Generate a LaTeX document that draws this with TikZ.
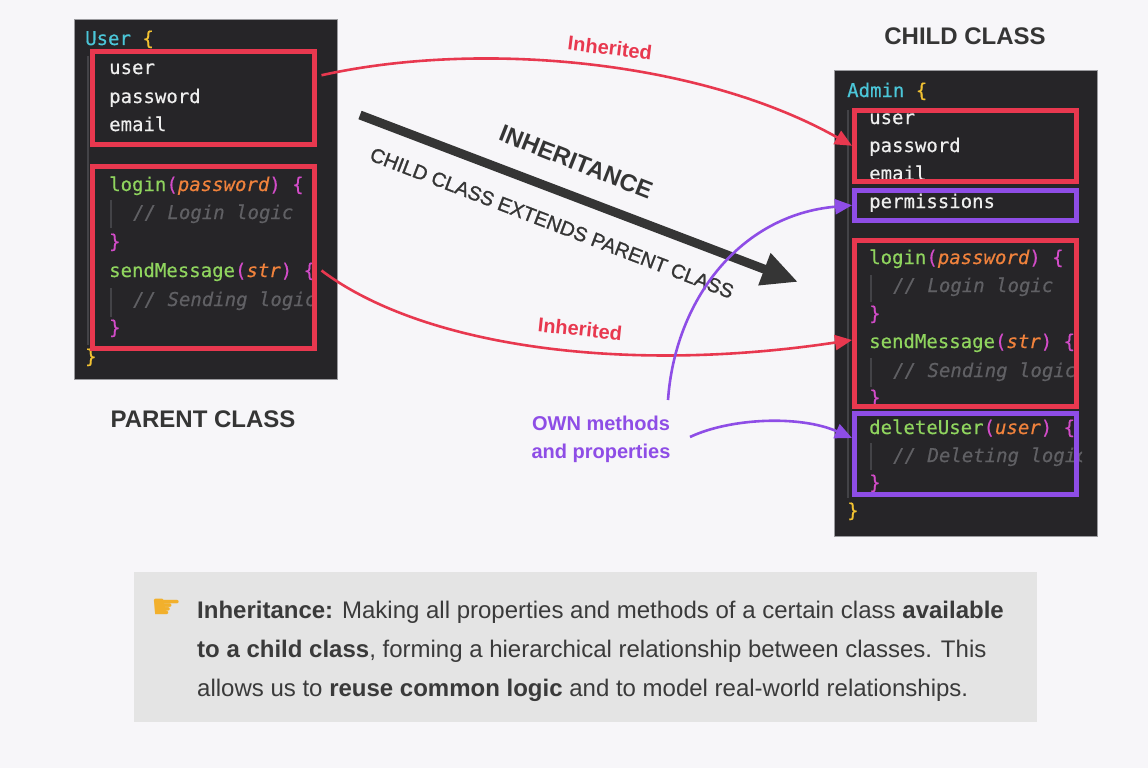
\documentclass[tikz,border=0pt]{standalone}
\usepackage{fontspec}
\setmainfont{Liberation Sans}
\newfontfamily\codefont[FakeBold=0.4]{DejaVu Sans Mono}
\newfontfamily\symfont{DejaVu Sans}
\usetikzlibrary{arrows.meta,calc}
\definecolor{bgc}{HTML}{F7F6F9}
\definecolor{panelc}{HTML}{262528}
\definecolor{panelb}{HTML}{9A9A9E}
\definecolor{guidec}{HTML}{434347}
\definecolor{cwhite}{HTML}{EEEEEE}
\definecolor{ccyan}{HTML}{4BC6D8}
\definecolor{cyel}{HTML}{F2C232}
\definecolor{cgrn}{HTML}{8FD45E}
\definecolor{cmag}{HTML}{D24CC8}
\definecolor{corg}{HTML}{F0823C}
\definecolor{ccom}{HTML}{606064}
\definecolor{redc}{HTML}{E8384F}
\definecolor{purc}{HTML}{8E4DE6}
\definecolor{darkc}{HTML}{353535}
\definecolor{txtc}{HTML}{3A3A3A}
\definecolor{notec}{HTML}{E4E4E4}
\definecolor{handc}{HTML}{F2B02C}
\newcommand{\kcyan}[1]{\textcolor{ccyan}{#1}}
\newcommand{\kyel}[1]{\textcolor{cyel}{#1}}
\newcommand{\kgrn}[1]{\textcolor{cgrn}{#1}}
\newcommand{\kmag}[1]{\textcolor{cmag}{#1}}
\newcommand{\korg}[1]{\textcolor{corg}{\itshape #1}}
\newcommand{\kcom}[1]{\textcolor{ccom}{\itshape #1}}
\tikzset{
  code/.style={anchor=base west, inner sep=0pt, text=cwhite, font=\codefont\fontsize{19}{19}\selectfont},
  panel/.style={fill=panelc, draw=panelb, line width=0.8pt},
  guide/.style={draw=guidec, line width=1.2pt},
  redbox/.style={draw=redc, line width=5pt, inner sep=0pt},
  purbox/.style={draw=purc, line width=5pt, inner sep=0pt},
  title/.style={font=\bfseries\fontsize{24}{24}\selectfont, text=darkc, anchor=base},
  redarrow/.style={draw=redc, line width=2.6pt, -{Triangle[length=17pt,width=15pt]}},
  purarrow/.style={draw=purc, line width=2.6pt, -{Triangle[length=17pt,width=15pt]}},
  redlabel/.style={font=\bfseries\fontsize{20}{20}\selectfont, text=redc, inner sep=0pt},
  note/.style={anchor=base west, inner sep=0pt, text=txtc, font=\fontsize{24}{24}\selectfont},
}
\begin{document}
\begin{tikzpicture}[x=1pt,y=-1pt]
\useasboundingbox (0,0) rectangle (1148,768);
\fill[bgc] (0,0) rectangle (1148,768);

% ---------- left panel ----------
\draw[panel] (74,19) rectangle (337,379);
\draw[guide] (88,56) -- (88,345);
\draw[guide] (111,200) -- (111,228);
\draw[guide] (111,288) -- (111,317);
\begin{scope}
\clip (74,19) rectangle (318,379);
\node[code] (l0) at (85,45) {\kcyan{User} \kyel{\{}};
\node[code] (l1) at (109,74) {user};
\node[code] (l2) at (109,103) {password};
\node[code] (l3) at (109,131) {email};
\node[code] (l4) at (109,191) {\kgrn{login}\kmag{(}\korg{password}\kmag{)} \kmag{\{}};
\node[code] (l5) at (133,219) {\kcom{// Login logic}};
\node[code] (l6) at (109,248) {\kmag{\}}};
\node[code] (l7) at (109,277) {\kgrn{sendMessage}\kmag{(}\korg{str}\kmag{)} \kmag{\{}};
\node[code] (l8) at (133,306) {\kcom{// Sending logic}};
\node[code] (l9) at (109,334) {\kmag{\}}};
\node[code] (l10) at (85,363) {\kyel{\}}};
\end{scope}
\node[redbox, minimum width=222pt, minimum height=92.5pt] (lprops) at (203,98.25) {};
\node[redbox, minimum width=222pt, minimum height=182pt] (lmeth) at (203,257.5) {};

% ---------- right panel ----------
\draw[panel] (834,70) rectangle (1097,536);
\draw[guide] (848,110) -- (848,498);
\draw[guide] (871,275) -- (871,302);
\draw[guide] (871,358) -- (871,387);
\draw[guide] (871,443) -- (871,470);
\begin{scope}
\clip (834,70) rectangle (1082,536);
\node[code] (r0) at (847,97) {\kcyan{Admin} \kyel{\{}};
\node[code] (r1) at (869,124) {user};
\node[code] (r2) at (869,152) {password};
\node[code] (r3) at (869,180) {email};
\node[code] (r4) at (869,208) {permissions};
\node[code] (r5) at (869,264) {\kgrn{login}\kmag{(}\korg{password}\kmag{)} \kmag{\{}};
\node[code] (r6) at (893,292) {\kcom{// Login logic}};
\node[code] (r7) at (869,320) {\kmag{\}}};
\node[code] (r8) at (869,348) {\kgrn{sendMessage}\kmag{(}\korg{str}\kmag{)} \kmag{\{}};
\node[code] (r9) at (893,377) {\kcom{// Sending logic}};
\node[code] (r10) at (869,404) {\kmag{\}}};
\node[code] (r11) at (869,434) {\kgrn{deleteUser}\kmag{(}\korg{user}\kmag{)} \kmag{\{}};
\node[code] (r12) at (893,462) {\kcom{// Deleting logic}};
\node[code] (r13) at (869,489) {\kmag{\}}};
\node[code] (r14) at (847,517) {\kyel{\}}};
\end{scope}
\node[redbox, minimum width=222pt, minimum height=71.5pt] (rprops) at (965.5,145.75) {};
\node[purbox, minimum width=222pt, minimum height=29.5pt] (rperm) at (965.5,205.25) {};
\node[redbox, minimum width=222pt, minimum height=166pt] (rmeth) at (965.5,323) {};
\node[purbox, minimum width=222pt, minimum height=81pt] (rdel) at (965.5,454) {};

% ---------- titles ----------
\node[title] (childt) at (965,45) {CHILD CLASS};
\node[title] (parentt) at (203,427) {PARENT CLASS};

% ---------- inheritance arrow ----------
\coordinate (ia) at (360,115);
\coordinate (ib) at (798,282);
\draw[darkc, line width=9pt, -{Triangle[length=36pt,width=32pt]}] (ia) -- (ib);
\node[font=\bfseries\fontsize{24}{24}\selectfont, text=darkc, rotate=-21.5, inner sep=0pt] (inh) at (576,162) {INHERITANCE};
\node[font=\fontsize{20}{20}\selectfont, text=darkc, rotate=-21, inner sep=0pt] (ext) at (552,223) {\addfontfeature{FakeBold=1.2}CHILD CLASS EXTENDS PARENT CLASS};

% ---------- red connectors ----------
\draw[redarrow] ($(lprops.east)+(5,-23)$) .. controls (480,40) and (700,60) .. (rprops.west);
\node[redlabel, rotate=-7] (inh1) at (610,48) {Inherited};
\draw[redarrow] ($(lmeth.east)+(5,13)$) .. controls (420,345) and (620,375) .. ($(rmeth.west)+(0,17)$);
\node[redlabel, rotate=-6] (inh2) at (580,329) {Inherited};

% ---------- own methods ----------
\node[font=\bfseries\fontsize{20}{28}\selectfont, text=purc, align=center, inner sep=0pt, anchor=north] (own) at (601,416) {OWN methods\\and properties};
\coordinate (p1s) at (668,400);
\coordinate (p2s) at (690,437);
\draw[purarrow] (p1s) .. controls (675,300) and (740,215) .. (rperm.west);
\draw[purarrow] (p2s) .. controls (730,418) and (800,415) .. ($(rdel.west)+(0,-16)$);

% ---------- note box ----------
\node[fill=notec, minimum width=903pt, minimum height=150pt, inner sep=0pt] (notebox) at (585.5,647) {};
\node[text=handc, font=\symfont\fontsize{34}{34}\selectfont, inner sep=0pt] (hand) at (167,609) {☛};
\node[note] (n1) at (197,618) {\textbf{Inheritance:} Making all properties and methods of a certain class \textbf{available}};
\node[note] (n2) at (197,657) {\textbf{to a child class}, forming a hierarchical relationship between classes. This};
\node[note] (n3) at (197,696) {allows us to \textbf{reuse common logic} and to model real-world relationships.};
\end{tikzpicture}
\end{document}
